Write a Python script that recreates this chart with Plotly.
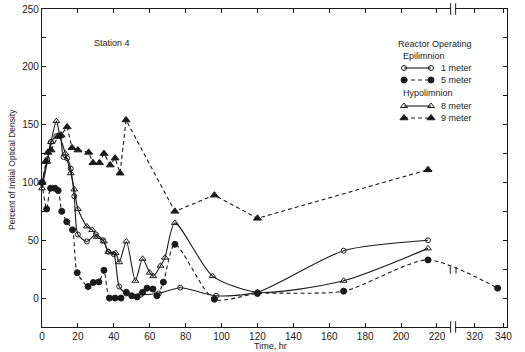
import numpy as np
import plotly.graph_objects as go

# ---------------- data ----------------
hours_1m = [0, 3, 5, 8, 10, 12, 14, 16, 18, 20, 25, 30, 34, 37, 40, 43, 47, 55, 65, 77, 97, 120, 168, 215]
pct_1m = [100, 120, 135, 140, 140, 122, 121, 112, 88, 55, 49, 55, 50, 40, 38, 10, 4, 3, 4, 9, 2, 5, 41, 50]

hours_5m = [0, 2.6, 4.8, 7.2, 9, 11, 13.8, 17, 19.6, 25.7, 28.6, 31.7, 34.5, 37.5, 40.7, 44, 47, 50, 53,
            56, 58.5, 61.8, 64, 67.6, 74, 96, 120, 168, 215, 336]
pct_5m = [100, 77, 95, 95, 93, 75, 66, 59, 22, 10, 13.5, 14, 24, 0, 0, 0, 5, 2, 1,
          5, 8.6, 7.8, 2, 13.8, 46.5, -1, 4, 6, 33, 8.6]

hours_8m = [0, 3, 5, 8, 10, 13, 16, 18, 20, 25, 28, 30.6, 34.5, 37, 41, 43, 47, 52, 56, 60, 62, 66,
            68.5, 74, 95, 120, 168, 215]
pct_8m = [95, 118, 135, 153, 140, 125, 108, 94, 77, 62, 59, 53, 49, 40, 39, 31, 49, 15, 34, 22, 19, 28,
          35, 65, 19, 5, 15, 43]

hours_9m = [0, 2, 3.3, 5, 9, 10.6, 14, 16.7, 20, 26, 28.4, 32, 34.5, 38, 40.7, 43.5, 46.8, 74, 96, 120, 215]
pct_9m = [100, 118, 126, 128, 140, 141, 148, 130, 128, 126, 117, 117, 125, 115, 121, 108, 154, 75, 89, 69, 111]

series_names = ["1 meter", "5 meter", "8 meter", "9 meter"]
x_tick_hours = [0, 20, 40, 60, 80, 100, 120, 140, 160, 180, 200, 220, 320, 340]
y_tick_vals = list(range(-25, 251, 25))

# ---------------- broken time axis ----------------
BREAK_POS = 229.0


def axis_pos(h):
    h = np.asarray(h, dtype=float)
    return np.where(h <= 230, h, 241 + (h - 320) * 0.8)


W, H = 525, 352
ML, MR, MT, MB = 42, 18, 9, 25


def px_x(p):
    return (p - ML) / (W - ML - MR)


def px_y(p):
    return (H - MB - p) / (H - MT - MB)


INK = "#1a1a1a"
FONT = "Liberation Sans"

fig = go.Figure()

styles = [
    dict(dash="solid", symbol="circle-open", size=5, shape="spline"),
    dict(dash="4px,3px", symbol="circle", size=6, shape="spline"),
    dict(dash="solid", symbol="triangle-up-open", size=6, shape="spline"),
    dict(dash="4px,3px", symbol="triangle-up", size=7, shape="linear"),
]
data = [(hours_1m, pct_1m), (hours_5m, pct_5m), (hours_8m, pct_8m), (hours_9m, pct_9m)]

for name, (hx, py), st in zip(series_names, data, styles):
    fig.add_trace(go.Scatter(
        x=axis_pos(hx), y=py, name=name, mode="lines+markers", showlegend=False,
        line=dict(color=INK, width=1.1, dash=st["dash"], shape=st["shape"], smoothing=0.7),
        marker=dict(symbol=st["symbol"], size=st["size"], color=INK, line=dict(color=INK, width=1)),
        cliponaxis=False,
    ))

# ---------------- hand-made legend (overlay axes in plot-fraction units) ----------------
legend_rows_px = [68, 80, 106, 118]
annotations = []
for name, st, ypx in zip(series_names, styles, legend_rows_px):
    fig.add_trace(go.Scatter(
        x=[px_x(404), px_x(431)], y=[px_y(ypx), px_y(ypx)], xaxis="x2", yaxis="y2",
        mode="lines+markers", showlegend=False, hoverinfo="skip",
        line=dict(color=INK, width=1.1, dash=st["dash"]),
        marker=dict(symbol=st["symbol"], size=st["size"], color=INK, line=dict(color=INK, width=1)),
    ))
    annotations.append(dict(text=name, xref="paper", yref="paper", x=px_x(439), y=px_y(ypx),
                            xanchor="left", yanchor="middle", showarrow=False,
                            font=dict(size=9, color=INK)))
for text, xp, yp in [("Reactor Operating", 396, 44), ("Epilimnion", 401, 56), ("Hypolimnion", 401, 93)]:
    annotations.append(dict(text=text, xref="paper", yref="paper", x=px_x(xp), y=px_y(yp),
                            xanchor="left", yanchor="middle", showarrow=False,
                            font=dict(size=9, color=INK)))

annotations += [
    dict(text="Station 4", xref="paper", yref="paper", x=px_x(112), y=px_y(43), showarrow=False,
         xanchor="center", yanchor="middle", font=dict(size=9, color=INK)),
    dict(text="Time, hr", xref="paper", yref="paper", x=px_x(270), y=px_y(346), showarrow=False,
         xanchor="center", yanchor="middle", font=dict(size=9, color=INK)),
    dict(text="Percent of Initial Optical Density", xref="paper", yref="paper", x=px_x(12), y=px_y(170),
         textangle=-90, showarrow=False, xanchor="center", yanchor="middle", font=dict(size=8.5, color=INK)),
]

# break marks on axes and on the 5 m line
shapes = []
for yc in (0.0, 1.0):
    shapes.append(dict(type="rect", xref="x", yref="paper", x0=BREAK_POS - 1.2, x1=BREAK_POS + 1.2,
                       y0=yc - 0.006, y1=yc + 0.006, fillcolor="white", line=dict(width=0), layer="above"))
    for dx in (-1.4, 1.4):
        shapes.append(dict(type="line", xref="x", yref="paper", x0=BREAK_POS + dx, x1=BREAK_POS + dx,
                           y0=yc - 0.018, y1=yc + 0.018, line=dict(color=INK, width=1), layer="above"))
pos5 = axis_pos(hours_5m)
y_on_line = float(np.interp(BREAK_POS, pos5, pct_5m))
for dx in (-1.6, 1.6):
    shapes.append(dict(type="line", xref="x", yref="y", x0=BREAK_POS + dx, x1=BREAK_POS + dx,
                       y0=y_on_line - 3, y1=y_on_line + 3, line=dict(color=INK, width=1), layer="above"))

fig.update_layout(
    width=W, height=H,
    margin=dict(l=ML, r=MR, t=MT, b=MB),
    paper_bgcolor="white", plot_bgcolor="white",
    font=dict(family=FONT, size=10, color=INK),
    shapes=shapes,
    annotations=annotations,
    showlegend=False,
    hovermode=False,
    xaxis2=dict(overlaying="x", range=[0, 1], visible=False, fixedrange=True),
    yaxis2=dict(overlaying="y", range=[0, 1], visible=False, fixedrange=True),
)

fig.layout.xaxis.update(
    range=[0, 259], tickvals=list(axis_pos(x_tick_hours)), ticktext=[str(t) for t in x_tick_hours],
    ticks="inside", ticklen=4, tickcolor=INK, showline=True, linecolor=INK, linewidth=1.2,
    mirror="ticks", showgrid=False, zeroline=False, automargin=False,
    tickfont=dict(size=10, color=INK),
)
fig.layout.yaxis.update(
    range=[-25, 250], tickvals=y_tick_vals,
    ticktext=[str(v) if v % 50 == 0 and v >= 0 else "" for v in y_tick_vals],
    ticks="inside", ticklen=4, tickcolor=INK, showline=True, linecolor=INK, linewidth=1.2,
    mirror="ticks", showgrid=False, zeroline=False, automargin=False,
    tickfont=dict(size=10, color=INK),
)

fig.write_html("out.html", config={"displayModeBar": False},
               post_script="document.body.style.margin='0px';")
